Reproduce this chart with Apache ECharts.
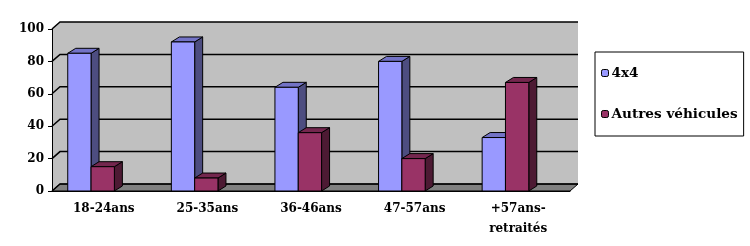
<!DOCTYPE html>
<html><head><meta charset="utf-8">
<script src="https://cdn.jsdelivr.net/npm/echarts@6/dist/echarts.min.js"></script>
<style>html,body{margin:0;padding:0;background:#fff}#c{width:750px;height:246px}</style>
</head><body><div id="c"></div>
<script>
const categories = ['18-24ans', '25-35ans', '36-46ans', '47-57ans', '+57ans-\nretraités'];
const values4x4 = [85, 92, 64, 80, 33];
const valuesAutres = [15, 8, 36, 20, 67];
const yTicks = [0, 20, 40, 60, 80, 100];
const seriesNames = ['4x4', 'Autres véhicules'];

const FONT = 'DejaVu Serif';
const WALL_DX = 8, WALL_DY = -7;
const BAR_DX = 8, BAR_DY = -5;

function wallRender(params, api) {
  const cs = params.coordSys;
  const x0 = cs.x, x1 = cs.x + cs.width, yT = cs.y, yB = cs.y + cs.height;
  const ch = [];
  ch.push({type: 'polygon', shape: {points: [[x0, yT], [x0 + WALL_DX, yT + WALL_DY], [x0 + WALL_DX, yB + WALL_DY], [x0, yB]]}, style: {fill: '#C0C0C0'}});
  ch.push({type: 'rect', shape: {x: x0 + WALL_DX, y: yT + WALL_DY, width: cs.width, height: cs.height}, style: {fill: '#C0C0C0'}});
  ch.push({type: 'polygon', shape: {points: [[x0, yB], [x1, yB], [x1 + WALL_DX, yB + WALL_DY], [x0 + WALL_DX, yB + WALL_DY]]}, style: {fill: '#808080', stroke: '#000', lineWidth: 1}});
  yTicks.forEach(function (v) {
    const yf = api.coord([0, v])[1];
    ch.push({type: 'polyline', shape: {points: [[x0, yf], [x0 + WALL_DX, yf + WALL_DY], [x1 + WALL_DX, yf + WALL_DY]]}, style: {stroke: '#000', lineWidth: 1.5, fill: null}});
  });
  return {type: 'group', children: ch};
}

function makeBarRender(idx, front, top, side) {
  return function (params, api) {
    const i = api.value(0), v = api.value(1);
    const band = api.size([1, 0])[0];
    const c0 = api.coord([i, 0]);
    const c1 = api.coord([i, v]);
    const w = band * 0.225;
    const L = c0[0] - band * 0.348 + idx * w;
    const R = L + w;
    const y0 = c0[1], y1 = c1[1];
    const st = {stroke: '#000', lineWidth: 1, lineJoin: 'miter'};
    return {type: 'group', children: [
      {type: 'polygon', shape: {points: [[R, y1], [R + BAR_DX, y1 + BAR_DY], [R + BAR_DX, y0 + BAR_DY], [R, y0]]}, style: Object.assign({fill: side}, st)},
      {type: 'polygon', shape: {points: [[L, y1], [L + BAR_DX, y1 + BAR_DY], [R + BAR_DX, y1 + BAR_DY], [R, y1]]}, style: Object.assign({fill: top}, st)},
      {type: 'rect', shape: {x: L, y: y1, width: w, height: y0 - y1}, style: Object.assign({fill: front}, st)}
    ]};
  };
}

const chart = echarts.init(document.getElementById('c'), null, {renderer: 'canvas'});
chart.setOption({
  animation: false,
  backgroundColor: '#fff',
  grid: {left: 52, right: 180, top: 29, bottom: 55},
  legend: {
    orient: 'vertical', left: 595, top: 52,
    padding: [14, 6, 15, 6], itemGap: 27,
    itemWidth: 7, itemHeight: 7, itemStyle: {borderColor: '#000', borderWidth: 1},
    borderColor: '#000', borderWidth: 1,
    textStyle: {fontFamily: FONT, fontWeight: 'bold', fontSize: 13.6, color: '#000', lineHeight: 14, padding: [0, 0, 0, -2]},
    data: seriesNames
  },
  xAxis: {
    type: 'category', data: categories, z: 10,
    axisLine: {lineStyle: {color: '#000', width: 1}},
    axisTick: {length: 5, lineStyle: {color: '#000'}},
    axisLabel: {fontFamily: FONT, fontWeight: 'bold', fontSize: 12, color: '#000', margin: 8, lineHeight: 20, interval: 0}
  },
  yAxis: {
    type: 'value', min: 0, max: 100, interval: 20, z: 10,
    axisLine: {show: true, lineStyle: {color: '#000', width: 1}},
    axisTick: {show: true, length: 4, lineStyle: {color: '#000'}},
    axisLabel: {fontFamily: FONT, fontWeight: 'bold', fontSize: 12, color: '#000', margin: 8},
    splitLine: {show: false}
  },
  series: [
    {type: 'custom', name: 'wall', z: 1, clip: false, silent: true, renderItem: wallRender, data: [[0, 0]]},
    {type: 'custom', name: seriesNames[0], z: 2, clip: false, itemStyle: {color: '#9999FF'},
     renderItem: makeBarRender(0, '#9999FF', '#7373C6', '#4D4D80'),
     data: values4x4.map(function (v, i) { return [i, v]; })},
    {type: 'custom', name: seriesNames[1], z: 3, clip: false, itemStyle: {color: '#993366'},
     renderItem: makeBarRender(1, '#993366', '#74274E', '#4D1A33'),
     data: valuesAutres.map(function (v, i) { return [i, v]; })}
  ]
});
</script></body></html>
